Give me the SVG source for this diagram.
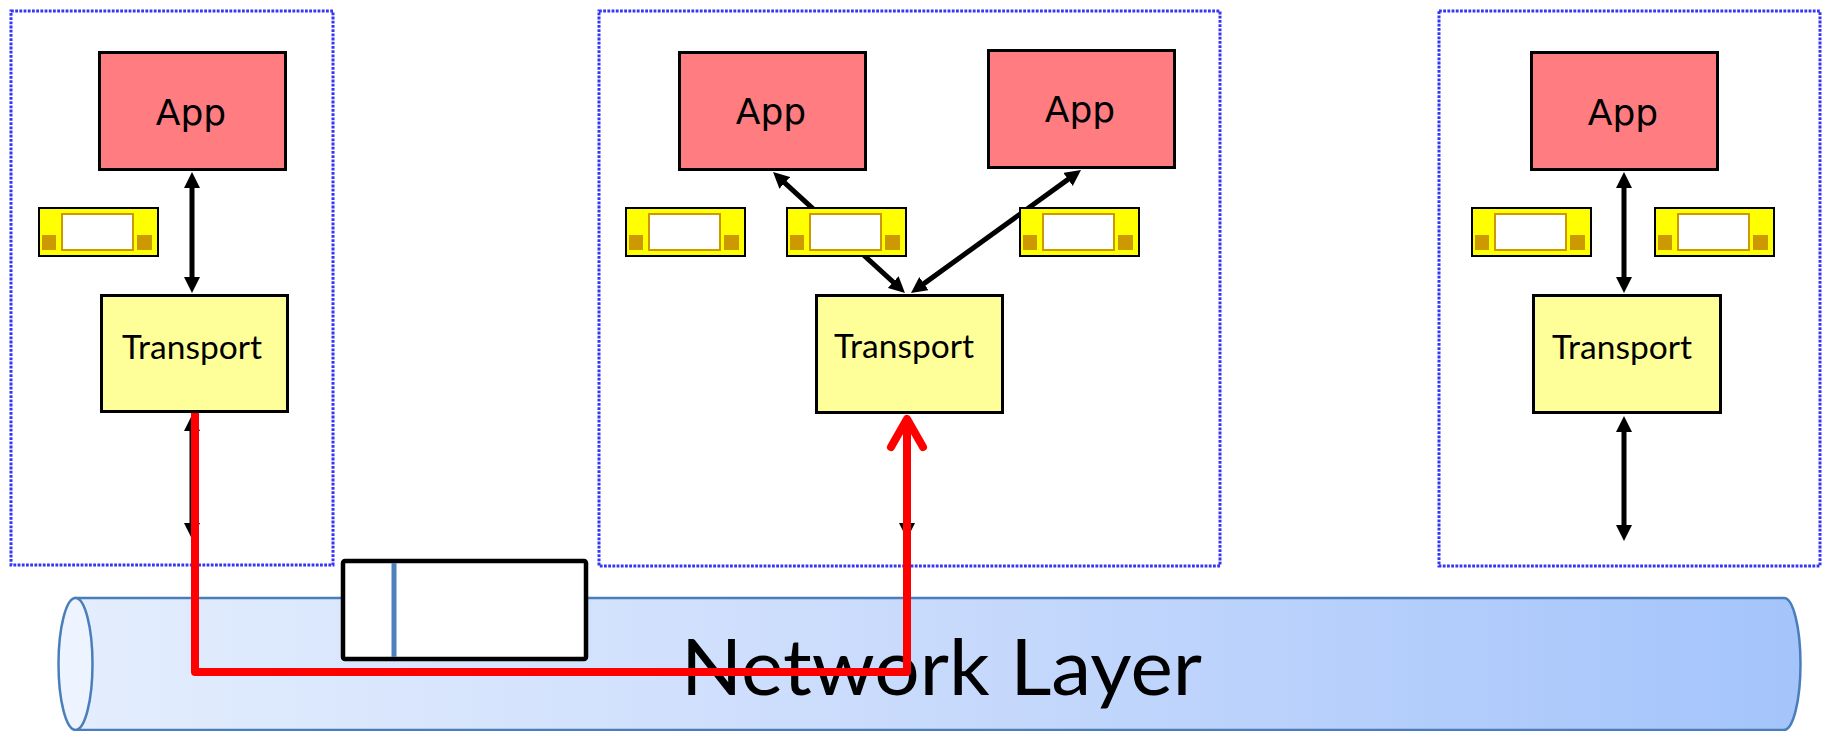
<svg xmlns="http://www.w3.org/2000/svg" xmlns:xlink="http://www.w3.org/1999/xlink" width="1826" height="731" viewBox="0 0 1826 731">
  <style>
    .host { fill: none; stroke: #3535f5; stroke-width: 3; stroke-dasharray: 2.8 1.4; }
    .app { fill: #ff7c80; stroke: #000; stroke-width: 3; }
    .tp { fill: #ffff99; stroke: #000; stroke-width: 3; }
    .app-t { font-family: "DejaVu Sans", Verdana, sans-serif; font-size: 36px; fill: #000; text-anchor: middle; }
    .tp-t { font-family: Lato, "Liberation Sans", sans-serif; font-size: 32px; fill: #000; text-anchor: middle; }
    .net-t { font-family: Lato, "Liberation Sans", sans-serif; font-size: 78px; fill: #000; }
    .arrow { fill: none; stroke: #000; stroke-width: 5; marker-start: url(#head); marker-end: url(#head); }
    .red { fill: none; stroke: #ff0000; stroke-width: 8; stroke-linejoin: round; }
  </style>
  <defs>
    <marker id="head" markerUnits="userSpaceOnUse" markerWidth="16" markerHeight="16" viewBox="0 0 16 16" refX="6" refY="8" orient="auto-start-reverse">
      <path d="M0,0 L16,8 L0,16 Z" fill="#000"/>
    </marker>
    <linearGradient id="pipeFill" x1="0" y1="0" x2="1" y2="0">
      <stop offset="0" stop-color="#e3edfd"/>
      <stop offset="0.5" stop-color="#c8dafc"/>
      <stop offset="1" stop-color="#a4c4fb"/>
    </linearGradient>
    <!-- socket buffer widget: 121 x 50 -->
    <g id="buf">
      <rect x="1" y="1" width="119" height="48" fill="#ffff00" stroke="#000" stroke-width="2"/>
      <rect x="24" y="7" width="71" height="36" fill="#fff" stroke="#cc9900" stroke-width="2"/>
      <rect x="4" y="28" width="14" height="15" fill="#cc9900"/>
      <rect x="99" y="28" width="15" height="15" fill="#cc9900"/>
    </g>
  </defs>

  <!-- hosts -->
  <g id="host-left"><rect class="host" x="11" y="11" width="322" height="554"/></g>
  <g id="host-middle"><rect class="host" x="599" y="11" width="621" height="555"/></g>
  <g id="host-right"><rect class="host" x="1439" y="11" width="381" height="555"/></g>

  <!-- network pipe -->
  <g id="network">
    <path d="M75.5,598 H1784 A16.5,66 0 0 1 1784,730 H75.5 Z" fill="url(#pipeFill)" stroke="#4a7ebb" stroke-width="2.5"/>
    <ellipse cx="75.5" cy="664" rx="17" ry="66" fill="#eef4ff" stroke="#4a7ebb" stroke-width="2.5"/>
    <text class="net-t" x="681" y="695" textLength="521" lengthAdjust="spacingAndGlyphs">Network Layer</text>
  </g>

  <!-- packet in transit -->
  <g id="packet">
    <rect x="343" y="561" width="243" height="98" rx="2" fill="#fff" stroke="#000" stroke-width="4.5"/>
    <line x1="394" y1="563" x2="394" y2="657" stroke="#4f81bd" stroke-width="5"/>
  </g>

  <!-- applications -->
  <g id="app-left">
    <rect class="app" x="99.5" y="52.5" width="186" height="117"/>
    <text class="app-t" x="191" y="125">App</text>
  </g>
  <g id="app-middle-1">
    <rect class="app" x="679.5" y="52.5" width="186" height="117"/>
    <text class="app-t" x="771" y="124">App</text>
  </g>
  <g id="app-middle-2">
    <rect class="app" x="988.5" y="50.5" width="186" height="117"/>
    <text class="app-t" x="1080" y="122">App</text>
  </g>
  <g id="app-right">
    <rect class="app" x="1531.5" y="52.5" width="186" height="117"/>
    <text class="app-t" x="1623" y="125">App</text>
  </g>

  <!-- transport layers -->
  <g id="transport-left">
    <rect class="tp" x="101.5" y="295.5" width="186" height="116"/>
    <text class="tp-t" x="192" y="359" textLength="140" lengthAdjust="spacingAndGlyphs">Transport</text>
  </g>
  <g id="transport-middle">
    <rect class="tp" x="816.5" y="295.5" width="186" height="117"/>
    <text class="tp-t" x="904" y="358" textLength="140" lengthAdjust="spacingAndGlyphs">Transport</text>
  </g>
  <g id="transport-right">
    <rect class="tp" x="1533.5" y="295.5" width="187" height="117"/>
    <text class="tp-t" x="1622" y="359" textLength="140" lengthAdjust="spacingAndGlyphs">Transport</text>
  </g>

  <!-- connectors -->
  <g id="connectors">
    <line class="arrow" x1="192" y1="182" x2="192" y2="283"/>
    <line class="arrow" x1="192" y1="425" x2="192" y2="529"/>
    <line class="arrow" x1="780.4" y1="178.8" x2="897.6" y2="286.2"/>
    <line class="arrow" x1="1072.9" y1="175.9" x2="919.1" y2="287.1"/>
    <line class="arrow" x1="907" y1="426" x2="907" y2="529"/>
    <line class="arrow" x1="1624" y1="182" x2="1624" y2="283"/>
    <line class="arrow" x1="1624" y1="426" x2="1624" y2="531"/>
    <!-- delivery path through the network -->
    <path class="red" d="M195,413 V672 H907 V420"/>
    <path class="red" stroke-linecap="round" d="M891,447 L907,419 L923,447"/>
  </g>

  <!-- socket buffers -->
  <g id="buffer-left"><use xlink:href="#buf" x="38" y="207"/></g>
  <g id="buffer-middle-1"><use xlink:href="#buf" x="625" y="207"/></g>
  <g id="buffer-middle-2"><use xlink:href="#buf" x="786" y="207"/></g>
  <g id="buffer-middle-3"><use xlink:href="#buf" x="1019" y="207"/></g>
  <g id="buffer-right-1"><use xlink:href="#buf" x="1471" y="207"/></g>
  <g id="buffer-right-2"><use xlink:href="#buf" x="1654" y="207"/></g>
</svg>
